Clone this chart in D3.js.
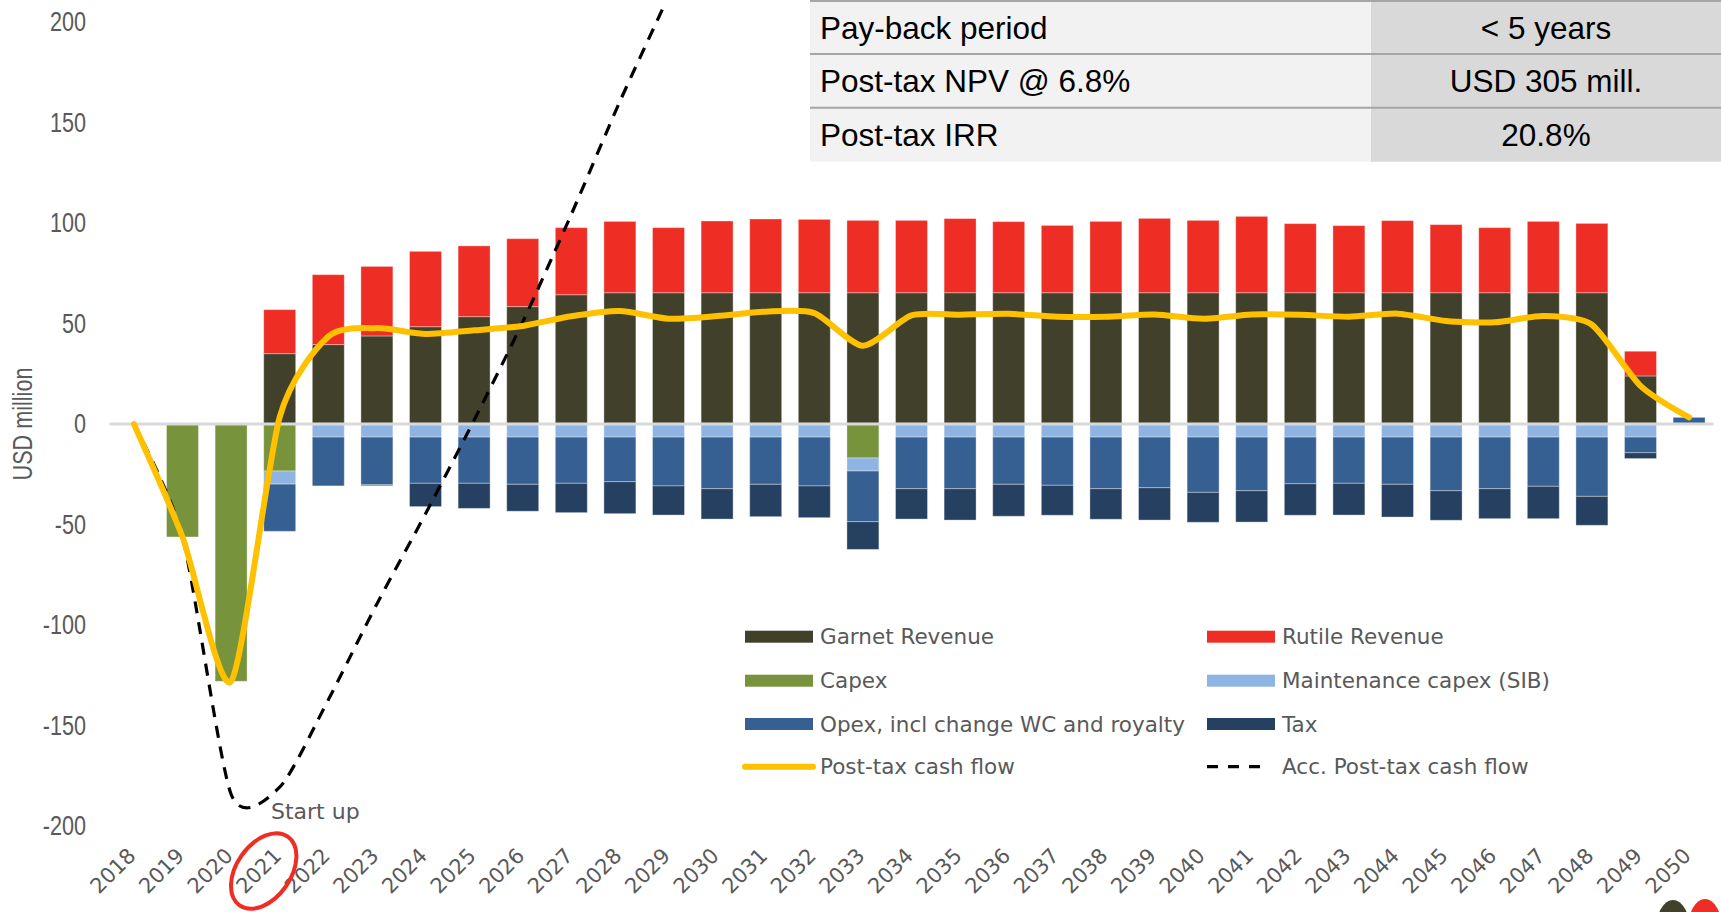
<!DOCTYPE html>
<html>
<head>
<meta charset="utf-8">
<script src="https://cdn.jsdelivr.net/npm/d3@7/dist/d3.min.js"></script>
<style>
  html, body { margin: 0; padding: 0; background: #ffffff; }
  svg { display: block; }
</style>
</head>
<body>
<svg id="chart" width="1721" height="912"></svg>
<script>
// ---------------- DATA ----------------
const years = ["2018","2019","2020","2021","2022","2023","2024","2025","2026","2027","2028","2029","2030","2031","2032","2033","2034","2035","2036","2037","2038","2039","2040","2041","2042","2043","2044","2045","2046","2047","2048","2049","2050"];

const garnetRevenue = [0,0,0,35.0,39.5,43.8,48.4,53.4,58.4,64.3,65.3,65.3,65.3,65.3,65.3,65.3,65.3,65.3,65.3,65.3,65.3,65.3,65.3,65.3,65.3,65.3,65.3,65.3,65.3,65.3,65.3,23.9,0];
const rutileRevenue = [0,0,0,21.9,34.8,34.6,37.5,35.2,33.8,33.4,35.5,32.4,35.7,36.7,36.5,36.0,36.0,36.9,35.4,33.5,35.5,37.0,36.0,38.0,34.4,33.4,35.9,33.9,32.4,35.5,34.5,12.3,0];
const capex = [0,-56.2,-128.0,-23.4,0,0,0,0,0,0,0,0,0,0,0,-16.9,0,0,0,0,0,0,0,0,0,0,0,0,0,0,0,0,0];
const maintenanceCapex = [0,0,0,-6.5,-6.5,-6.5,-6.5,-6.5,-6.5,-6.5,-6.5,-6.5,-6.5,-6.5,-6.5,-6.5,-6.5,-6.5,-6.5,-6.5,-6.5,-6.5,-6.5,-6.5,-6.5,-6.5,-6.5,-6.5,-6.5,-6.5,-6.5,-6.5,0];
const opex = [0,0,0,-23.5,-24.3,-23.7,-23.0,-23.0,-23.5,-23.0,-22.2,-24.3,-25.7,-23.5,-24.3,-25.2,-25.7,-25.7,-23.5,-24.0,-25.7,-25.2,-27.5,-26.7,-23.2,-23.0,-23.5,-26.7,-25.7,-24.5,-29.5,-7.8,3.3];
const tax = [0,0,0,0,0,-0.5,-11.6,-12.5,-13.4,-14.6,-15.9,-14.5,-15.1,-16.1,-15.8,-13.8,-15.1,-15.6,-15.9,-14.9,-15.2,-16.1,-14.9,-15.6,-15.7,-15.8,-16.3,-14.7,-14.9,-16.1,-14.4,-2.9,0];

const postTaxCashFlow = [0,-56.2,-128.0,3.5,43.5,47.7,44.8,46.6,48.8,53.6,56.2,52.4,53.7,55.9,55.2,38.9,54.0,54.4,54.8,53.4,53.4,54.5,52.4,54.5,54.3,53.4,54.9,51.3,50.6,53.7,49.4,19.0,3.3];
const accPostTaxCashFlow = [0,-56.2,-184.2,-180.7,-137.2,-89.5,-44.7,1.9,50.7,104.3,160.5,212.9,266.6,322.5,377.7,416.6,470.6,525.0,579.8,633.2,686.6,741.1,793.5,848.0,902.3,955.7,1010.6,1061.9,1112.5,1166.2,1215.6,1234.6,1237.9];

const yTicks = [-200,-150,-100,-50,0,50,100,150,200];

const seriesKeys = ["garnet","rutile","capex","sib","opex","tax"];
const seriesNames = ["Garnet Revenue","Rutile Revenue","Capex","Maintenance capex (SIB)","Opex, incl change WC and royalty","Tax"];
const seriesColors = ["#41402b","#ee2e24","#77933c","#8eb4e3","#366092","#254061"];

const tableLabels = ["Pay-back period","Post-tax NPV @ 6.8%","Post-tax IRR"];
const tableValues = ["< 5 years","USD 305 mill.","20.8%"];

// ---------------- CHART ----------------
const svg = d3.select("#chart");
const W = 1721, H = 912;
svg.append("rect").attr("width", W).attr("height", H).attr("fill", "#fff");

const x = d3.scaleBand().domain(years).range([109.6, 1713.4]).paddingInner(0.342).paddingOuter(0.171);
const y = d3.scaleLinear().domain([-200, 200]).range([826, 22]);

const rows = years.map((yr, i) => ({
  year: yr,
  garnet: garnetRevenue[i], rutile: rutileRevenue[i], capex: capex[i],
  sib: maintenanceCapex[i], opex: opex[i], tax: tax[i]
}));

const stacked = d3.stack().keys(seriesKeys).offset(d3.stackOffsetDiverging)(rows);
const color = d3.scaleOrdinal().domain(seriesKeys).range(seriesColors);

const narrowFont = "'Liberation Sans Narrow','Arial Narrow','Liberation Sans',Arial,sans-serif";

// y axis
const yAxis = svg.append("g")
  .attr("transform", "translate(86,0)")
  .call(d3.axisLeft(y).tickValues(yTicks).tickSize(0).tickPadding(0).tickFormat(d => String(d)));
yAxis.select(".domain").remove();
yAxis.selectAll("text")
  .attr("fill", "#595959")
  .attr("transform", "scale(0.8,1)")
  .style("font-family", narrowFont)
  .style("font-size", "27px");

// y axis title
svg.append("text")
  .attr("transform", `translate(32,${y(0)}) rotate(-90) scale(0.8,1)`)
  .attr("text-anchor", "middle")
  .attr("fill", "#595959")
  .style("font-family", narrowFont)
  .style("font-size", "27px")
  .text("USD million");

// bars
const gBars = svg.append("g");
gBars.selectAll("g.series")
  .data(stacked)
  .join("g")
  .attr("class", "series")
  .attr("fill", d => color(d.key))
  .selectAll("rect")
  .data(d => d.filter(s => Math.abs(s[1] - s[0]) > 0.01))
  .join("rect")
  .attr("x", d => x(d.data.year))
  .attr("width", x.bandwidth())
  .attr("y", d => y(Math.max(d[0], d[1])))
  .attr("height", d => Math.abs(y(d[0]) - y(d[1])))
  .attr("stroke", "#ffffff")
  .attr("stroke-opacity", 0.35)
  .attr("stroke-width", 1);

// zero line
svg.append("line")
  .attr("x1", x.range()[0]).attr("x2", x.range()[1])
  .attr("y1", y(0)).attr("y2", y(0))
  .attr("stroke", "#d9d9d9").attr("stroke-width", 3);

// clip for lines
svg.append("clipPath").attr("id", "plotClip")
  .append("rect").attr("x", 100).attr("y", 9).attr("width", 1621).attr("height", 880);

const cx = d => x(d) + x.bandwidth() / 2;

const lineGen = d3.line()
  .x((d, i) => cx(years[i]))
  .y(d => y(d))
  .curve(d3.curveCardinal.tension(0.3));

svg.append("path")
  .attr("clip-path", "url(#plotClip)")
  .attr("d", lineGen(accPostTaxCashFlow))
  .attr("fill", "none")
  .attr("stroke", "#000")
  .attr("stroke-width", 3.2)
  .attr("stroke-dasharray", "12,9");

svg.append("path")
  .attr("clip-path", "url(#plotClip)")
  .attr("d", lineGen(postTaxCashFlow))
  .attr("fill", "none")
  .attr("stroke", "#ffc000")
  .attr("stroke-width", 6)
  .attr("stroke-linecap", "round")
  .attr("stroke-linejoin", "round");

// x axis
const xAxis = svg.append("g")
  .attr("transform", "translate(0,857)")
  .call(d3.axisBottom(x).tickSize(0).tickPadding(0));
xAxis.select(".domain").remove();
xAxis.selectAll("text")
  .attr("y", 0).attr("x", 0).attr("dy", null)
  .attr("transform", "translate(3,0) rotate(-45)")
  .style("text-anchor", "end")
  .attr("fill", "#595959")
  .style("font-family", "'DejaVu Sans',Verdana,sans-serif")
  .style("font-size", "21px");

// Start up annotation
svg.append("text")
  .attr("x", 271).attr("y", 819)
  .attr("fill", "#595959")
  .style("font-family", "'DejaVu Sans',Verdana,sans-serif")
  .style("font-size", "22px")
  .text("Start up");

svg.append("ellipse")
  .attr("transform", `translate(${cx("2021") - 16},871) rotate(-55)`)
  .attr("rx", 42).attr("ry", 27)
  .attr("fill", "none")
  .attr("stroke", "#ee2e24")
  .attr("stroke-width", 4);

// legend
const legendItems = [
  {name: seriesNames[0], type: "rect", color: seriesColors[0]},
  {name: seriesNames[1], type: "rect", color: seriesColors[1]},
  {name: seriesNames[2], type: "rect", color: seriesColors[2]},
  {name: seriesNames[3], type: "rect", color: seriesColors[3]},
  {name: seriesNames[4], type: "rect", color: seriesColors[4]},
  {name: seriesNames[5], type: "rect", color: seriesColors[5]},
  {name: "Post-tax cash flow", type: "line", color: "#ffc000"},
  {name: "Acc. Post-tax cash flow", type: "dash", color: "#000"}
];
const legRowY = [636.7, 680.7, 724, 766.7];
const legColX = [745, 1207];
const lg = svg.append("g");
legendItems.forEach((it, i) => {
  const col = i % 2, row = Math.floor(i / 2);
  const gx = legColX[col], gy = legRowY[row];
  const g = lg.append("g").attr("transform", `translate(${gx},${gy})`);
  if (it.type === "rect") {
    g.append("rect").attr("x", 0).attr("y", -6).attr("width", 68).attr("height", 12).attr("fill", it.color);
  } else if (it.type === "line") {
    g.append("line").attr("x1", 0).attr("x2", 68).attr("y1", 0).attr("y2", 0)
      .attr("stroke", it.color).attr("stroke-width", 6).attr("stroke-linecap", "round");
  } else {
    g.append("line").attr("x1", 0).attr("x2", 56).attr("y1", 0).attr("y2", 0)
      .attr("stroke", it.color).attr("stroke-width", 3.2).attr("stroke-dasharray", "11,10");
  }
  g.append("text")
    .attr("x", 75).attr("y", 7.5)
    .attr("fill", "#595959")
    .style("font-family", "'DejaVu Sans',Verdana,sans-serif")
    .style("font-size", "21.5px")
    .text(it.name);
});

// table
const tX0 = 810, tX1 = 1371, tX2 = 1721;
const rowH = [1, 54, 107.7, 161.7];
const tg = svg.append("g");
tableLabels.forEach((lab, i) => {
  tg.append("rect").attr("x", tX0).attr("y", rowH[i]).attr("width", tX1 - tX0).attr("height", rowH[i+1] - rowH[i]).attr("fill", "#f2f2f2");
  tg.append("rect").attr("x", tX1).attr("y", rowH[i]).attr("width", tX2 - tX1).attr("height", rowH[i+1] - rowH[i]).attr("fill", "#d9d9d9");
  const mid = (rowH[i] + rowH[i+1]) / 2;
  tg.append("text").attr("x", 820).attr("y", mid + 11)
    .style("font-family", "'Liberation Sans',Arial,sans-serif").style("font-size", "31.5px")
    .attr("fill", "#000").text(lab);
  tg.append("text").attr("x", (tX1 + tX2) / 2).attr("y", mid + 11)
    .attr("text-anchor", "middle")
    .style("font-family", "'Liberation Sans',Arial,sans-serif").style("font-size", "31.5px")
    .attr("fill", "#000").text(tableValues[i]);
});
[1, 54, 107.7].forEach(yy => {
  tg.append("line").attr("x1", tX0).attr("x2", tX2).attr("y1", yy).attr("y2", yy)
    .attr("stroke", "#a6a6a6").attr("stroke-width", 2);
});

// logo fragments bottom-right
svg.append("ellipse").attr("cx", 1673).attr("cy", 930).attr("rx", 17).attr("ry", 30).attr("fill", "#41402b");
svg.append("ellipse").attr("cx", 1705).attr("cy", 929).attr("rx", 17).attr("ry", 30).attr("fill", "#ee2e24");
</script>
</body>
</html>
